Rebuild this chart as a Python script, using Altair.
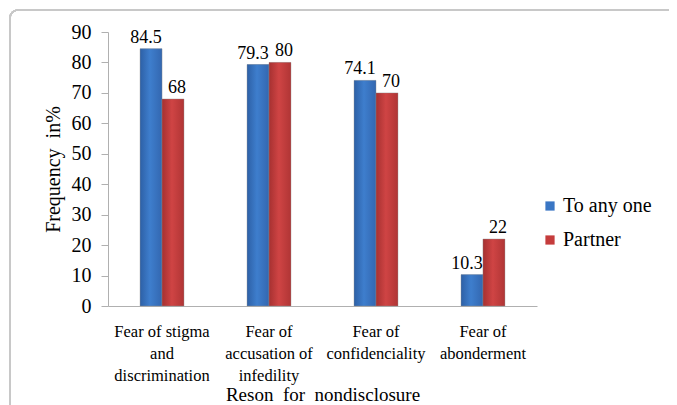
import altair as alt
import pandas as pd

categories = ["Fear of stigma|and|discrimination", "Fear of|accusation of|infedility",
              "Fear of|confidenciality", "Fear of|abonderment"]
series = ["To any one", "Partner"]
to_any_one = [84.5, 79.3, 74.1, 10.3]
partner = [68, 80, 70, 22]
y_ticks = [0, 10, 20, 30, 40, 50, 60, 70, 80, 90]

rows = []
for c, a, p in zip(categories, to_any_one, partner):
    rows.append({"cat": c, "series": series[0], "value": a})
    rows.append({"cat": c, "series": series[1], "value": p})
df = pd.DataFrame(rows)

FONT = "Liberation Serif"
NB = "\u00a0"

x = alt.X("cat:N", sort=categories, title=f"Reson{NB}{NB}for{NB}{NB}nondisclosure",
          scale=alt.Scale(paddingInner=0.59, paddingOuter=0.3),
          axis=alt.Axis(labelAngle=0, labelExpr="split(datum.label, '|')", ticks=False,
                        labelFontSize=16.5, labelLineHeight=22, labelPadding=17,
                        labelFont=FONT, titleFont=FONT,
                        titleFontSize=19, titlePadding=2, titleFontWeight="normal",
                        domainColor="#b0b0b0", labelColor="#000", titleColor="#000"))
y = alt.Y("value:Q", title=f"Frequency{NB}{NB}in%",
          scale=alt.Scale(domain=[0, 90], nice=False),
          axis=alt.Axis(values=y_ticks, grid=False, tickSize=7, tickColor="#b0b0b0",
                        domainColor="#b0b0b0", labelFontSize=20, labelPadding=10,
                        labelOverlap=False, labelFont=FONT, titleFont=FONT,
                        titleFontSize=20, titleFontWeight="normal", titlePadding=8,
                        labelColor="#000", titleColor="#000"))
xo = alt.XOffset("series:N", sort=series)
color = alt.Color("series:N", sort=series,
                  scale=alt.Scale(domain=series, range=["#3a76c4", "#c53c3c"]),
                  legend=alt.Legend(title=None, orient="none", legendX=432, legendY=164,
                                    symbolType="square", symbolSize=85, labelFontSize=20,
                                    labelFont=FONT, labelColor="#000", rowPadding=14,
                                    labelOffset=3, symbolStrokeWidth=0))

base = alt.Chart(df).encode(x=x, y=y, xOffset=xo)

bars = base.mark_bar().encode(color=color)

blue_grad = alt.Gradient(gradient="linear", x1=0, x2=1, y1=0, y2=0, stops=[
    alt.GradientStop(offset=0, color="#2d60a6"),
    alt.GradientStop(offset=0.45, color="#3e7ecd"),
    alt.GradientStop(offset=1, color="#3367b0"),
])
red_grad = alt.Gradient(gradient="linear", x1=0, x2=1, y1=0, y2=0, stops=[
    alt.GradientStop(offset=0, color="#a63131"),
    alt.GradientStop(offset=0.45, color="#cf4444"),
    alt.GradientStop(offset=1, color="#b03535"),
])
blue_bars = base.mark_bar(fill=blue_grad, stroke="#8a8a8a", strokeWidth=0.4).transform_filter(
    alt.datum.series == series[0])
red_bars = base.mark_bar(fill=red_grad, stroke="#8a8a8a", strokeWidth=0.4).transform_filter(
    alt.datum.series == series[1])

labels = base.mark_text(
    dy=-11, fontSize=18, font=FONT, color="#000",
    dx=alt.expr("datum.series == 'To any one' ? -5 : 4"),
).encode(text=alt.Text("value:Q", format="~g"))

frame = alt.Chart(df).mark_rect(fill=None, stroke="#c8c8c8", strokeWidth=1.5,
                                cornerRadius=8, clip=False).encode(
    x=alt.value(-98), x2=alt.value(800), y=alt.value(-22), y2=alt.value(600)
)

chart = alt.layer(frame, bars, blue_bars, red_bars, labels).properties(
    width=429, height=274,
    autosize=alt.AutoSizeParams(type="none"),
    padding={"left": 100, "top": 24, "right": 132, "bottom": 99},
    view=alt.ViewBackground(stroke=None, strokeWidth=0),
).configure(font=FONT).configure_view(stroke=None)

chart.save("out.html", embed_options={"renderer": "svg", "actions": False})
